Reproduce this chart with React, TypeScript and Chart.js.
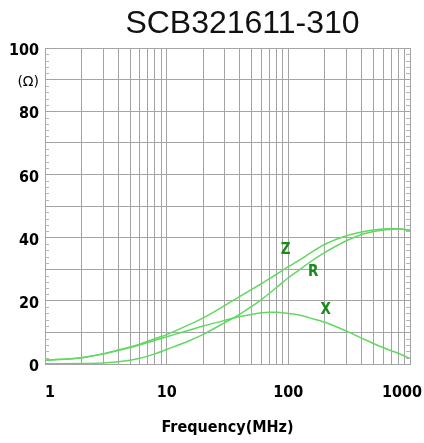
import React, { useEffect, useRef } from 'react';
import { Chart, registerables } from 'chart.js';

Chart.register(...registerables);

const TITLE = 'SCB321611-310';
const X_TITLE = 'Frequency(MHz)';
const Y_UNIT = '(Ω)';

// Frequency (MHz)
const FREQ = [1, 2, 3, 4, 5, 6, 7, 8, 10, 15, 20, 30, 40, 50, 60, 70, 80, 100, 120, 150, 200, 300, 400, 500, 600, 700, 800, 1000];
// Impedance |Z| (ohm)
const Z_VALUES = [1.2, 2.0, 3.2, 4.4, 5.4, 6.3, 7.2, 8.0, 9.3, 12.3, 14.6, 18.5, 21.4, 23.6, 25.4, 27.0, 28.4, 30.8, 32.6, 35.0, 37.9, 40.6, 41.8, 42.4, 42.7, 42.8, 42.8, 42.3];
// Resistance R (ohm)
const R_VALUES = [0.1, 0.15, 0.3, 0.7, 1.2, 1.8, 2.5, 3.2, 4.6, 7.2, 9.4, 13.1, 15.8, 18.2, 20.4, 22.4, 24.2, 27.3, 29.5, 32.2, 35.3, 39.0, 41.0, 41.9, 42.4, 42.6, 42.7, 42.3];
// Reactance X (ohm)
const X_VALUES = [1.2, 2.0, 3.2, 4.3, 5.2, 6.0, 6.8, 7.5, 8.6, 10.6, 12.0, 13.8, 15.0, 15.7, 16.2, 16.4, 16.4, 16.0, 15.6, 14.6, 13.2, 10.4, 8.2, 6.5, 5.2, 4.2, 3.4, 1.7];

const X_GRID_TICKS = [1, 2, 3, 4, 5, 6, 7, 8, 9, 10, 20, 30, 40, 50, 60, 70, 80, 90, 100, 200, 300, 400, 500, 600, 700, 800, 900, 1000];
const X_TICK_LABELS = [1, 10, 100, 1000];
const Y_TICK_LABELS = [0, 20, 40, 60, 80, 100];
const Y_UNIT_AT = 90;

const SERIES_TAGS = ['Z', 'R', 'X'];
const TAG_FREQ = [95, 160, 203];
const TAG_VALUE = [36, 29.2, 17.1];

const LINE_COLOR = '#62d862';
const TAG_COLOR = '#1a8a1a';
const GRID_COLOR = '#a4a4a4';
const BOLD_FONT = '"DejaVu Sans Condensed", "DejaVu Sans", sans-serif';

const overlayPlugin = {
  id: 'overlay',
  afterDraw(chart: any) {
    const { ctx, chartArea, scales } = chart;
    const xs = scales.x;
    const ys = scales.y;
    ctx.save();
    // minor ticks on left/right frame
    ctx.strokeStyle = '#b4b4b4';
    ctx.lineWidth = 1;
    for (let v = 2; v < 100; v += 2) {
      if (v % 10 === 0) continue;
      const py = Math.round(ys.getPixelForValue(v)) + 0.5;
      ctx.beginPath();
      ctx.moveTo(chartArea.left, py);
      ctx.lineTo(chartArea.left + 4, py);
      ctx.moveTo(chartArea.right - 4, py);
      ctx.lineTo(chartArea.right, py);
      ctx.stroke();
    }
    // x tick labels
    ctx.font = 'bold 16px ' + BOLD_FONT;
    ctx.fillStyle = '#000';
    ctx.textBaseline = 'middle';
    ctx.textAlign = 'left';
    for (const v of X_TICK_LABELS) {
      const text = String(v);
      const w = ctx.measureText(text).width;
      let left = xs.getPixelForValue(v) - w / 2;
      if (left < chartArea.left) left = chartArea.left;
      if (left + w > chart.width - 2) left = chart.width - 2 - w;
      ctx.fillText(text, left, chartArea.bottom + 29);
    }
    // series tags
    ctx.font = 'bold 15px ' + BOLD_FONT;
    ctx.fillStyle = TAG_COLOR;
    ctx.textAlign = 'center';
    SERIES_TAGS.forEach((t, i) => {
      ctx.fillText(t, xs.getPixelForValue(TAG_FREQ[i]), ys.getPixelForValue(TAG_VALUE[i]));
    });
    // title
    ctx.font = '32px "Liberation Sans", Arial, sans-serif';
    ctx.fillStyle = '#111';
    ctx.textBaseline = 'alphabetic';
    ctx.textAlign = 'center';
    ctx.fillText(TITLE, 242.5, 33);
    ctx.restore();
  },
};

export default function App() {
  const ref = useRef<HTMLCanvasElement | null>(null);
  useEffect(() => {
    if (!ref.current) return;
    const mk = (vals: number[]) => FREQ.map((f, i) => ({ x: f, y: vals[i] }));
    const ds = (label: string, vals: number[]) => ({
      label,
      data: mk(vals),
      borderColor: LINE_COLOR,
      borderWidth: 1.5,
      pointRadius: 0,
      fill: false,
      cubicInterpolationMode: 'monotone' as const,
    });
    const chart = new Chart(ref.current, {
      type: 'line',
      data: {
        datasets: [ds('Z', Z_VALUES), ds('R', R_VALUES), ds('X', X_VALUES)],
      },
      options: {
        animation: false,
        responsive: false,
        layout: { padding: { top: 48, right: 14, left: 0, bottom: 0 } },
        plugins: { legend: { display: false }, tooltip: { enabled: false }, title: { display: false } },
        scales: {
          x: {
            type: 'logarithmic',
            min: 1,
            max: 1000,
            afterBuildTicks: (scale: any) => {
              scale.ticks = X_GRID_TICKS.map((v) => ({ value: v }));
            },
            afterFit: (scale: any) => {
              scale.height = 79;
              scale.paddingLeft = 0;
              scale.paddingRight = 0;
            },
            ticks: { display: false },
            grid: { color: GRID_COLOR, lineWidth: 1, drawTicks: false },
            border: { display: true, color: GRID_COLOR },
            title: {
              display: true,
              text: X_TITLE,
              color: '#000',
              font: { family: BOLD_FONT, size: 16, weight: 'bold' },
              padding: { top: 0, bottom: 6 },
            },
          },
          y: {
            type: 'linear',
            min: 0,
            max: 100,
            afterFit: (scale: any) => {
              scale.width = 45;
            },
            ticks: {
              stepSize: 10,
              padding: 6,
              labelOffset: 3,
              color: '#000',
              callback: (v: any) => {
                if (v === Y_UNIT_AT) return Y_UNIT;
                return Y_TICK_LABELS.includes(v) ? String(v) : '';
              },
              font: (c: any) =>
                c.tick && c.tick.value === Y_UNIT_AT
                  ? { family: '"DejaVu Sans", sans-serif', size: 14, weight: 'normal' }
                  : { family: BOLD_FONT, size: 16, weight: 'bold' },
            },
            grid: { color: GRID_COLOR, lineWidth: 1, drawTicks: false },
            border: { display: true, color: GRID_COLOR },
          },
        },
      },
      plugins: [overlayPlugin],
    } as any);
    return () => chart.destroy();
  }, []);
  return (
    <div style={{ position: 'absolute', left: 0, top: 0, width: 424, height: 443, background: '#fff' }}>
      <canvas ref={ref} width={424} height={443} />
    </div>
  );
}
